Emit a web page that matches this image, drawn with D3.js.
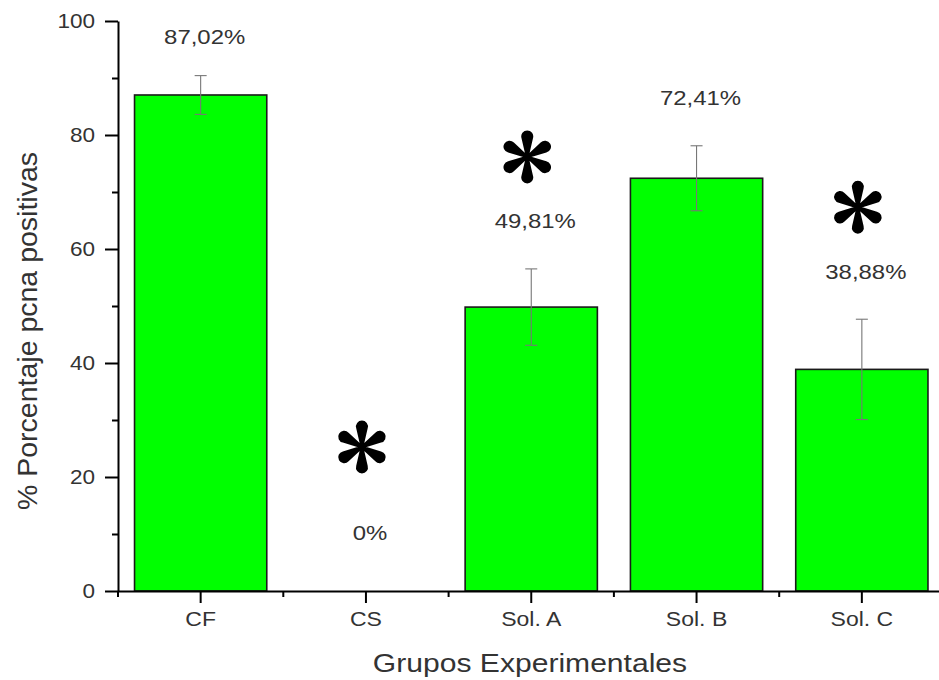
<!DOCTYPE html>
<html>
<head>
<meta charset="utf-8">
<script src="https://cdn.jsdelivr.net/npm/d3@7"></script>
<style>
  html, body { margin: 0; padding: 0; background: #fff; }
  svg { display: block; }
  text { font-family: "Liberation Sans", Arial, sans-serif; fill: #333; }
</style>
</head>
<body>
<svg id="chart" width="939" height="680"></svg>
<script>
// Groups and measured PCNA-positive percentages
const categories = ["CF", "CS", "Sol. A", "Sol. B", "Sol. C"];
const values = [87.02, 0, 49.81, 72.41, 38.88];
const errors = [3.4, 0, 6.7, 5.7, 8.8];
const valueLabels = ["87,02%", "0%", "49,81%", "72,41%", "38,88%"];
const significant = [false, true, true, false, true];
const yTicks = [0, 20, 40, 60, 80, 100];
const yMinorTicks = [10, 30, 50, 70, 90];

const svg = d3.select("#chart");
const plotLeft = 118, plotBottom = 591, plotTop = 21;
const step = 165.3;
const wide = 1.18; // horizontal stretch of the lettering

const x = d3.scaleBand()
  .domain(categories)
  .range([plotLeft, plotLeft + step * categories.length])
  .paddingInner(0.2)
  .paddingOuter(0.1);

const y = d3.scaleLinear().domain([0, 100]).range([plotBottom, plotTop]);

// Bars
svg.append("g").selectAll("rect")
  .data(categories)
  .join("rect")
  .attr("x", d => x(d))
  .attr("width", x.bandwidth())
  .attr("y", (d, i) => y(values[i]))
  .attr("height", (d, i) => y(0) - y(values[i]))
  .attr("fill", "#00ff00")
  .attr("stroke", "#1a1a1a")
  .attr("stroke-width", 1.6)
  .style("display", (d, i) => values[i] > 0 ? null : "none");

// Error bars
const eb = svg.append("g").attr("stroke", "#777").attr("stroke-width", 1.1).attr("fill", "none");
categories.forEach((c, i) => {
  if (errors[i] <= 0) return;
  const cx = x(c) + x.bandwidth() / 2;
  const y1 = y(values[i] + errors[i]), y2 = y(values[i] - errors[i]);
  eb.append("line").attr("x1", cx).attr("x2", cx).attr("y1", y1).attr("y2", y2);
  eb.append("line").attr("x1", cx - 6).attr("x2", cx + 6).attr("y1", y1).attr("y2", y1);
  eb.append("line").attr("x1", cx - 6).attr("x2", cx + 6).attr("y1", y2).attr("y2", y2);
});

// Y axis with minor ticks
const yAxis = svg.append("g")
  .attr("transform", `translate(${plotLeft},0)`)
  .call(d3.axisLeft(y).tickValues(yTicks).tickSize(13).tickSizeOuter(0).tickPadding(10));
svg.append("g")
  .attr("transform", `translate(${plotLeft},0)`)
  .call(d3.axisLeft(y).tickValues(yMinorTicks).tickSize(6).tickSizeOuter(0).tickFormat(""))
  .call(g => g.select(".domain").remove())
  .selectAll(".tick line").attr("stroke", "#000").attr("stroke-width", 2);

// X axis with minor ticks at group boundaries
const xAxis = svg.append("g")
  .attr("transform", `translate(0,${plotBottom})`)
  .call(d3.axisBottom(x).tickSize(12).tickSizeOuter(0).tickPadding(9));
const boundaries = d3.range(categories.length + 1).map(k => plotLeft + k * step);
svg.append("g").selectAll("line")
  .data(boundaries)
  .join("line")
  .attr("x1", d => d).attr("x2", d => d)
  .attr("y1", plotBottom).attr("y2", plotBottom + 6)
  .attr("stroke", "#000").attr("stroke-width", 2);

[yAxis, xAxis].forEach(g => {
  g.select(".domain").attr("stroke", "#000").attr("stroke-width", 2);
  g.selectAll(".tick line").attr("stroke", "#000").attr("stroke-width", 2);
  g.selectAll(".tick text")
    .style("font-family", '"Liberation Sans", Arial, sans-serif')
    .attr("fill", "#333");
});
yAxis.selectAll(".tick text")
  .style("font-size", "20.5px")
  .attr("x", -23 / 1.1)
  .attr("transform", "scale(1.1,1)");
xAxis.selectAll(".tick text")
  .style("font-size", "19.5px")
  .attr("transform", `scale(${wide},1)`);

// Six teardrop arms radiating from the center
function asteriskPath(d, r) {
  const a = Math.acos(r / d);
  const tx = d + r * Math.cos(Math.PI - a), ty = r * Math.sin(Math.PI - a);
  const w = 1.4;
  let p = "";
  for (let k = 0; k < 6; k++) {
    const ang = Math.PI / 2 + k * Math.PI / 3;
    const cs = Math.cos(ang), sn = Math.sin(ang);
    const rot = (px, py) => [px * cs - py * sn, px * sn + py * cs];
    const p0 = rot(0, -w), p1 = rot(tx, -ty), p2 = rot(tx, ty), p3 = rot(0, w);
    p += `M${p0[0]},${p0[1]}L${p1[0]},${p1[1]}A${r},${r} 0 1 1 ${p2[0]},${p2[1]}L${p3[0]},${p3[1]}Z`;
  }
  return p;
}

// Value labels and significance marks
const ann = svg.append("g");
categories.forEach((c, i) => {
  const cx = x(c) + x.bandwidth() / 2;
  const topY = y(values[i] + errors[i]);
  const labelY = values[i] > 0 ? Math.max(37, topY - 48) : topY - 58;
  ann.append("text")
    .attr("transform", `translate(${cx + 4},${labelY}) scale(1.14,1)`)
    .attr("dy", "0.35em")
    .attr("text-anchor", "middle")
    .style("font-size", "21px")
    .text(valueLabels[i]);
  if (significant[i]) {
    const sy = labelY - (values[i] > 0 ? 64 : 86);
    ann.append("path")
      .attr("transform", `translate(${cx - 4},${sy})`)
      .attr("d", asteriskPath(20.5, 6))
      .attr("fill", "#000");
  }
});

// Axis titles
svg.append("text")
  .attr("transform", `translate(37,331) rotate(-90)`)
  .attr("text-anchor", "middle")
  .style("font-size", "28.5px")
  .text("% Porcentaje pcna positivas");

svg.append("text")
  .attr("transform", `translate(530,672) scale(${wide},1)`)
  .attr("text-anchor", "middle")
  .style("font-size", "25.5px")
  .text("Grupos Experimentales");
</script>
</body>
</html>
